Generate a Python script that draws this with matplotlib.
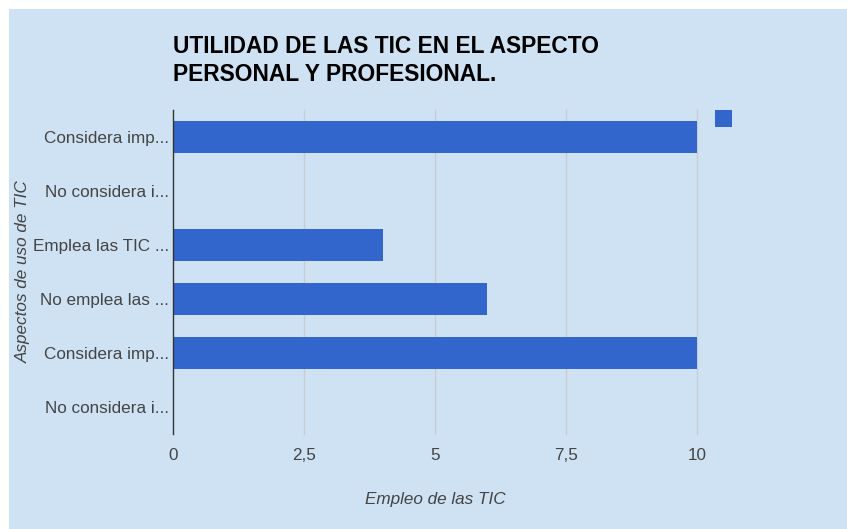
import matplotlib
matplotlib.use('Agg')
from matplotlib import pyplot as plt
from matplotlib.patches import Rectangle

# data
categories = ['Considera imp...', 'No considera i...', 'Emplea las TIC ...',
              'No emplea las ...', 'Considera imp...', 'No considera i...']
values = [10, 0, 4, 6, 10, 0]
xticks = [0, 2.5, 5, 7.5, 10]
xtick_labels = ['0', '2,5', '5', '7,5', '10']

bg = '#cfe2f3'
bar_col = '#3366cc'
txt = '#444444'

plt.rcParams['font.family'] = ['Liberation Sans', 'DejaVu Sans']

fig = plt.figure(figsize=(8.47, 5.29), dpi=100, facecolor='white')
fig.patches.append(Rectangle((9 / 847, 0), 1, 1 - 9 / 529, transform=fig.transFigure,
                             facecolor=bg, edgecolor='none', zorder=-10))

W, H = 847, 529
left, right, top, bottom = 173, 697, 110, 434
ax = fig.add_axes([left / W, 1 - bottom / H, (right - left) / W, (bottom - top) / H])
ax.set_facecolor(bg)

pos = list(range(len(categories)))
ax.barh(pos, values, height=0.59, color=bar_col, zorder=3)
ax.set_ylim(len(categories) - 0.5, -0.5)
ax.set_xlim(0, 10)

ax.set_yticks(pos)
ax.set_yticklabels(categories, fontsize=12.3, color=txt)
ax.set_xticks(xticks)
ax.set_xticklabels(xtick_labels, fontsize=12.3, color=txt)
ax.tick_params(axis='y', length=0, pad=3)
ax.tick_params(axis='x', length=0, pad=10)

for x in xticks[1:]:
    ax.axvline(x, color='#c6cdd4', lw=1, zorder=1, clip_on=False)

for s in ['top', 'right', 'bottom']:
    ax.spines[s].set_visible(False)
ax.spines['left'].set_color('#333333')
ax.spines['left'].set_linewidth(1)
ax.spines['left'].set_zorder(4)

ax.set_xlabel('Empleo de las TIC', fontsize=12.3, style='italic', color=txt, labelpad=21)
ax.set_ylabel('Aspectos de uso de TIC', fontsize=12.3, style='italic', color=txt)
ax.yaxis.set_label_coords((31 - left) / (right - left), 0.5)

fig.text(left / W, 1 - 35 / H, 'UTILIDAD DE LAS TIC EN EL ASPECTO\nPERSONAL Y PROFESIONAL.',
         fontsize=16.4, fontweight='bold', color='black', va='top', ha='left', linespacing=1.3)

# legend marker (no label)
fig.patches.append(Rectangle((715 / W, 1 - 127 / H), 17 / W, 17 / H, transform=fig.transFigure,
                             facecolor=bar_col, edgecolor='none'))

fig.savefig('out.png', dpi=100, facecolor='white')
